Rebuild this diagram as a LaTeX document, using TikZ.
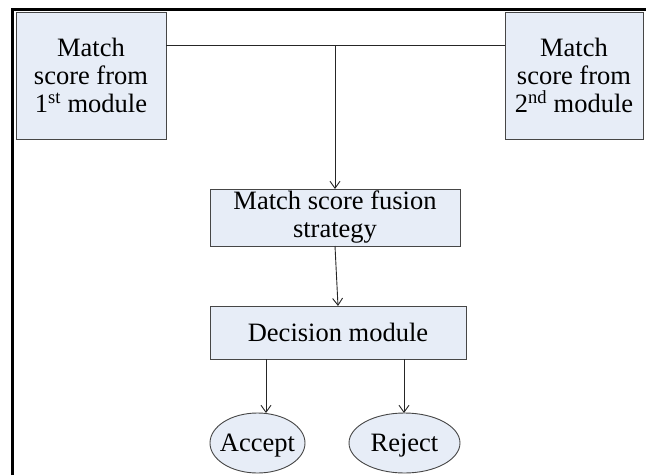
\documentclass[tikz,border=0pt]{standalone}
\usepackage{fontspec}
\setmainfont{Liberation Serif}
\usetikzlibrary{arrows.meta,shapes.geometric}
\definecolor{boxfill}{RGB}{231,237,247}
\definecolor{boxline}{RGB}{70,70,70}
\newcommand{\tightlabel}[1]{\raisebox{-8.5pt}[0pt][0pt]{\makebox[0pt]{#1}}}
\tikzset{
  box/.style={draw=boxline, fill=boxfill, line width=0.9pt, inner sep=0pt, outer sep=0pt,
    align=center, font=\fontsize{26.5}{28}\selectfont},
  oval/.style={ellipse, draw=boxline, fill=boxfill, line width=0.9pt, inner sep=0pt, outer sep=0pt,
    font=\fontsize{26.5}{28}\selectfont},
  conn/.style={draw=black!85, line width=0.9pt},
  arr/.style={conn, -{Straight Barb[length=7pt,width=10pt,line width=0.9pt]}},
  frame/.style={draw=black, line width=3pt}
}
\begin{document}
\begin{tikzpicture}[x=1pt,y=-1pt]
\useasboundingbox (0,0) rectangle (646,475);
\draw[frame] (12,475) -- (12,9) -- (646,9);
\node[box, minimum width=150, minimum height=127] (m1) at (91,75.5) {Match\\score from\\1\textsuperscript{st} module};
\node[box, minimum width=138, minimum height=127] (m2) at (574,75.5) {Match\\score from\\2\textsuperscript{nd} module};
\node[box, minimum width=250, minimum height=57] (fus) at (335,217.5) {Match score fusion\\strategy};
\node[box, minimum width=256, minimum height=53] (dec) at (338,332.5) {Decision module};
\node[oval, minimum width=95, minimum height=60] (acc) at (257.5,443) {\tightlabel{Accept}};
\node[oval, minimum width=111, minimum height=60] (rej) at (404.5,443) {\tightlabel{Reject}};
\coordinate (j) at (335,45);
\coordinate (xa) at (266,0);
\coordinate (xr) at (404,0);
\draw[conn] (m1.east |- j) -- (m2.west |- j);
\draw[arr] (j) -- (fus.north);
\draw[arr] (fus.south) -- (dec.north);
\draw[arr] (dec.south -| xa) -- (xa |- acc.north);
\draw[arr] (dec.south -| xr) -- (xr |- rej.north);
\end{tikzpicture}
\end{document}
